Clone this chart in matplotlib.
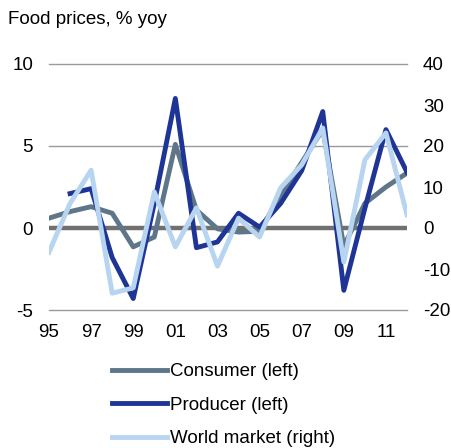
import matplotlib
matplotlib.use("Agg")
import matplotlib.pyplot as plt
import numpy as np

plt.rcParams['font.family'] = ['Liberation Sans', 'DejaVu Sans']
plt.rcParams['axes.unicode_minus'] = False

# Dados anuais
years = np.arange(1995, 2013)
consumer = [0.6, 1.0, 1.3, 0.9, -1.15, -0.55, 5.1, 1.1, -0.05, -0.25, -0.2, 2.0, 4.0, 6.0, -1.1, 1.5, 2.5, 3.35]
producer = [np.nan, 2.1, 2.4, -1.8, -4.3, 1.5, 7.9, -1.2, -0.85, 0.9, 0.05, 1.5, 3.5, 7.1, -3.8, 1.2, 6.0, 3.4]
world = [-5.9, 6.0, 14.1, -15.9, -14.6, 8.8, -4.6, 4.9, -9.3, 2.4, -2.2, 9.8, 15.4, 24.4, -8.3, 16.6, 23.2, 3.2]

xticks = np.arange(1995, 2013, 2)
xlabels = ['95', '97', '99', '01', '03', '05', '07', '09', '11']

c_cons = '#5e7687'
c_prod = '#1f3596'
c_world = '#b7d4f0'
fs = 13.5

fig = plt.figure(figsize=(4.51, 4.48), dpi=100)
ax = fig.add_axes([49/451, 1-310/448, 358/451, 246/448])
ax2 = ax.twinx()

# grade e linha do zero
for v in [10, 5, -5]:
    ax.axhline(v, color='#9a9a9a', lw=1.0, zorder=0, clip_on=False)
ax.axhline(0, color='#707070', lw=3.2, zorder=1)

l1, = ax.plot(years, consumer, color=c_cons, lw=3.5, zorder=3)
l2, = ax.plot(years, producer, color=c_prod, lw=3.5, zorder=4)
l3, = ax2.plot(years, world, color=c_world, lw=3.5, zorder=5)

# serie da direita por cima
ax.set_zorder(1)
ax2.set_zorder(2)
ax2.patch.set_visible(False)

ax.set_xlim(1995, 2012)
ax.set_ylim(-5, 10)
ax2.set_ylim(-20, 40)
ax.set_yticks([-5, 0, 5, 10])
ax2.set_yticks([-20, -10, 0, 10, 20, 30, 40])
ax.set_xticks(xticks)
ax.set_xticklabels(xlabels)

for a in (ax, ax2):
    for s in a.spines.values():
        s.set_visible(False)
    a.tick_params(length=0, labelsize=fs, colors='black')
ax.tick_params(axis='y', pad=11.5)
ax2.tick_params(axis='y', pad=11.5)
ax.tick_params(axis='x', pad=10)

fig.text(8/451, 1-19/448, 'Food prices, % yoy', fontsize=fs, va='center', ha='left')

fig.legend([l1, l2, l3], ['Consumer (left)', 'Producer (left)', 'World market (right)'],
           loc='upper left', bbox_to_anchor=(112/451, 1-363/448), frameon=False,
           fontsize=fs, handlelength=2.95, handletextpad=0.16, labelspacing=0.88,
           borderpad=0, borderaxespad=0)

fig.savefig('out.png', dpi=100)
